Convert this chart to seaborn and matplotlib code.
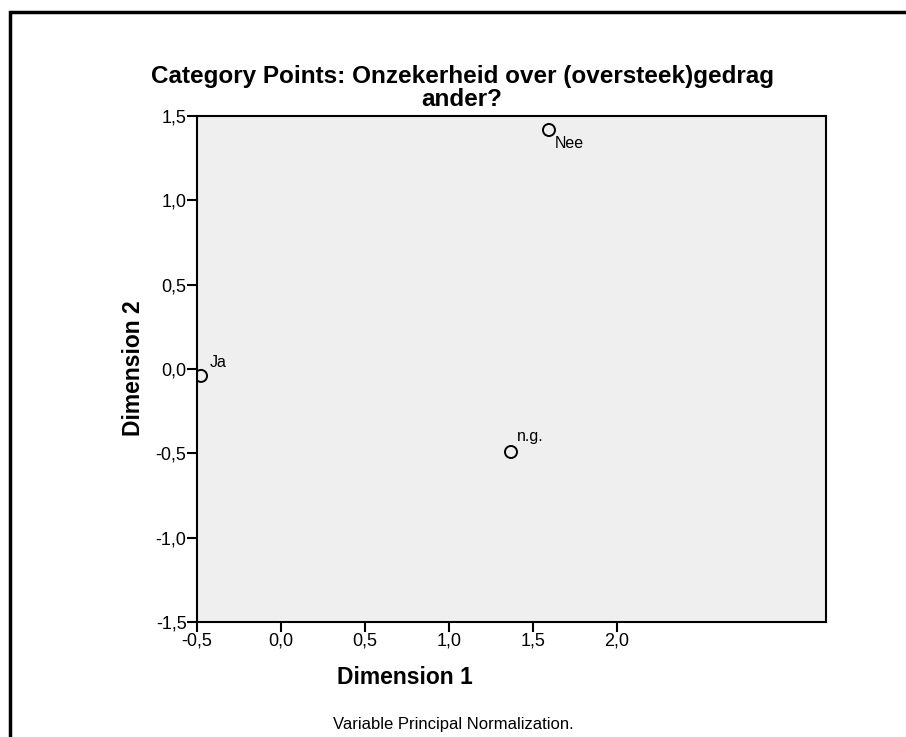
import matplotlib
matplotlib.use("Agg")
import matplotlib.pyplot as plt
from matplotlib.patches import Rectangle
from matplotlib.ticker import FuncFormatter
import seaborn as sns
import pandas as pd

# Category quantifications
categories = ["Nee", "Ja", "n.g."]
dim1 = [1.595, -0.476, 1.369]
dim2 = [1.417, -0.041, -0.492]
label_offsets = [(4, -15), (6, 4), (4, 6)]

x_ticks = [-0.5, 0.0, 0.5, 1.0, 1.5, 2.0]
y_ticks = [-1.5, -1.0, -0.5, 0.0, 0.5, 1.0, 1.5]

sns.set_style("white")
plt.rcParams["font.family"] = ["Liberation Sans", "DejaVu Sans"]
plt.rcParams["text.color"] = "black"

W, H = 906, 737
fig = plt.figure(figsize=(W / 100, H / 100), dpi=100)
ax = fig.add_axes([197 / W, 1 - 622 / H, (826 - 197) / W, (622 - 116) / H])
ax.set_facecolor("#EFEFEF")

df = pd.DataFrame({"Dimension 1": dim1, "Dimension 2": dim2, "cat": categories})
sns.scatterplot(data=df, x="Dimension 1", y="Dimension 2", ax=ax,
                marker="o", s=75, facecolor="none", edgecolor="black",
                linewidth=1.4, legend=False, zorder=3)

for name, x, y, off in zip(categories, dim1, dim2, label_offsets):
    ax.annotate(name, (x, y), xytext=off, textcoords="offset points",
                fontsize=11.5, ha="left", va="bottom", color="black")

ax.set_xlim(-0.5, 3.244)
ax.set_ylim(-1.5, 1.5)
ax.set_xticks(x_ticks)
ax.set_yticks(y_ticks)
comma = FuncFormatter(lambda v, p: f"{v:.1f}".replace(".", ","))
ax.xaxis.set_major_formatter(comma)
ax.yaxis.set_major_formatter(comma)
ax.tick_params(axis="both", direction="out", length=7, width=1.5,
               labelsize=13, color="black", labelcolor="black",
               left=True, bottom=True, pad=0.5)
for s in ax.spines.values():
    s.set_color("black")
    s.set_linewidth(1.5)

ax.set_xlabel("")
ax.set_ylabel("")
fig.text(405 / W, 1 - 678 / H, "Dimension 1", ha="center", va="center",
         fontsize=16.5, fontweight="bold")
fig.text(133 / W, 1 - 368 / H, "Dimension 2", ha="center", va="center",
         fontsize=16.5, fontweight="bold", rotation=90)

fig.text(462 / W, 1 - 77 / H, "Category Points: Onzekerheid over (oversteek)gedrag",
         ha="center", va="center", fontsize=17.5, fontweight="bold")
fig.text(462 / W, 1 - 99 / H, "ander?",
         ha="center", va="center", fontsize=17.5, fontweight="bold")
fig.text(453 / W, 1 - 725 / H, "Variable Principal Normalization.",
         ha="center", va="center", fontsize=12)

# Frame around the chart
fig.patches.append(Rectangle((9.5 / W, -0.1), 1.2, 1.1 - 11.5 / H,
                             transform=fig.transFigure, fill=False,
                             edgecolor="black", linewidth=2.5))

fig.savefig("out.png", dpi=100)
